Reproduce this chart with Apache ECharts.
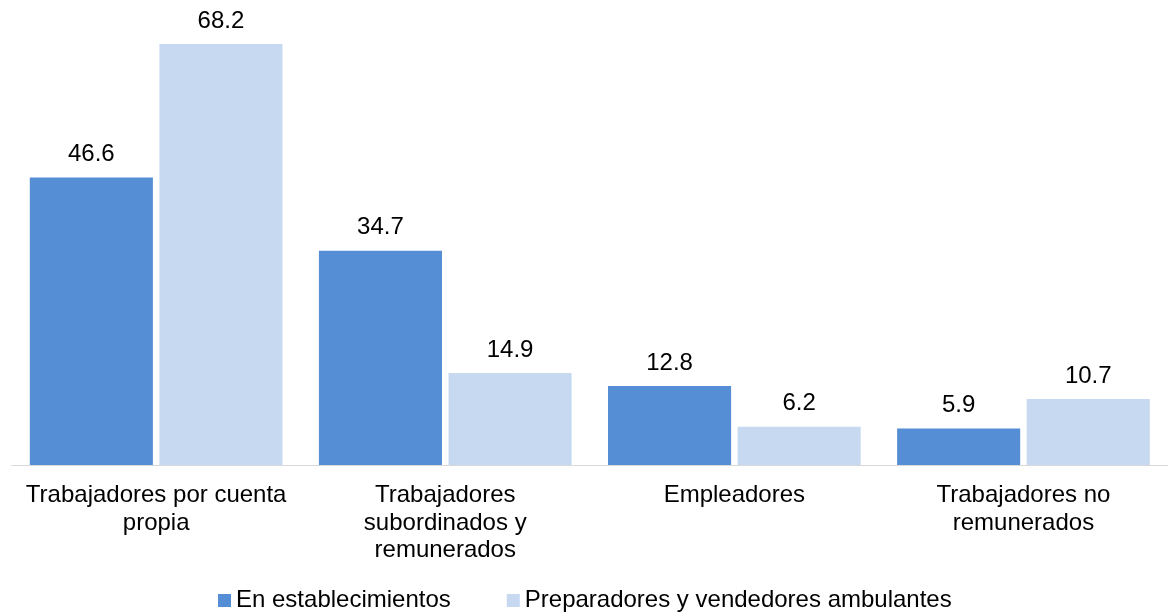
<!DOCTYPE html>
<html>
<head>
<meta charset="utf-8">
<script src="https://cdn.jsdelivr.net/npm/echarts@6/dist/echarts.min.js"></script>
<style>
html,body{margin:0;padding:0;background:#fff;}
#chart{width:1168px;height:616px;}
</style>
</head>
<body>
<div id="chart"></div>
<script>
const categories = [
  "Trabajadores por cuenta\npropia",
  "Trabajadores\nsubordinados y\nremunerados",
  "Empleadores",
  "Trabajadores no\nremunerados"
];
const seriesNames = ["En establecimientos", "Preparadores y vendedores ambulantes"];
const establecimientos = [46.6, 34.7, 12.8, 5.9];
const ambulantes = [68.2, 14.9, 6.2, 10.7];

const FONT = '"Liberation Sans", Arial, sans-serif';
const chart = echarts.init(document.getElementById('chart'), null, {renderer: 'canvas'});
const labelCfg = {
  show: true, position: 'top', distance: 11,
  color: '#000', fontFamily: FONT, fontSize: 24,
  formatter: p => p.value.toFixed(1)
};
chart.setOption({
  animation: false,
  backgroundColor: '#fff',
  grid: {left: 11.6, right: -3.2, top: 33, bottom: 151, containLabel: false},
  legend: {
    left: 218, top: 587, padding: 0,
    itemWidth: 13, itemHeight: 13, itemGap: 56,
    icon: 'rect',
    textStyle: {fontFamily: FONT, fontSize: 24, color: '#000', lineHeight: 27},
    data: seriesNames
  },
  xAxis: {
    type: 'category',
    data: categories,
    axisLine: {show: true, lineStyle: {color: '#d9d9d9', width: 1}},
    axisTick: {show: false},
    axisLabel: {
      interval: 0, margin: 17,
      fontFamily: FONT, fontSize: 24, color: '#000', lineHeight: 27.5, align: 'center'
    }
  },
  yAxis: {
    type: 'value', min: 0, max: 70,
    show: false,
    splitLine: {show: false}
  },
  series: [
    {
      name: seriesNames[0], type: 'bar', data: establecimientos,
      itemStyle: {color: '#558ED5'},
      barGap: '5.3%', barCategoryGap: '12.6%',
      label: labelCfg
    },
    {
      name: seriesNames[1], type: 'bar', data: ambulantes,
      itemStyle: {color: '#C6D9F1'},
      barGap: '5.3%', barCategoryGap: '12.6%',
      label: labelCfg
    }
  ]
});
</script>
</body>
</html>
